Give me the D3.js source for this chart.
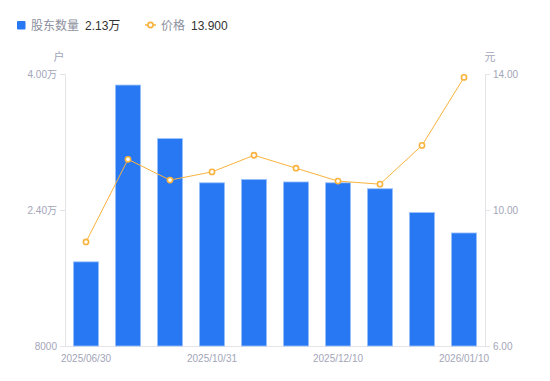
<!DOCTYPE html>
<html><head><meta charset="utf-8">
<script src="https://cdn.jsdelivr.net/npm/d3@7"></script>
<style>
html,body{margin:0;padding:0;background:#fff;}
svg{display:block;font-family:"Liberation Sans","Noto Sans CJK SC",sans-serif;}
</style></head>
<body>
<svg id="c" width="550" height="381"></svg>
<script>
const categories = ["2025/06/30","2025/09/30","2025/10/20","2025/10/31","2025/11/10","2025/11/20","2025/12/10","2025/12/20","2025/12/31","2026/01/10"];
const holders = [17900, 38700, 32400, 27200, 27600, 27300, 27200, 26500, 23700, 21300];
const prices = [9.06, 11.49, 10.88, 11.12, 11.61, 11.23, 10.85, 10.76, 11.90, 13.90];
const leftTicks = [8000, 24000, 40000];
const leftTickLabels = ["8000", "2.40万", "4.00万"];
const rightTicks = [6, 10, 14];
const shownDates = ["2025/06/30","2025/10/31","2025/12/10","2026/01/10"];

const svg = d3.select("#c");
const L = 65, R = 485, T = 74, B = 346;
const labelColor = "#a3a5b8", axisColor = "#e3e3e8";
const barColor = "#2878f4", lineColor = "#f9b33e";

const x = d3.scaleBand().domain(categories).range([L, R]).paddingInner(0.4).paddingOuter(0.2);
const yL = d3.scaleLinear().domain([8000, 40000]).range([B, T]);
const yR = d3.scaleLinear().domain([6, 14]).range([B, T]);

// axes
const gl = svg.append("g").attr("transform", `translate(${L},0)`)
  .call(d3.axisLeft(yL).tickValues(leftTicks).tickSize(5).tickPadding(3)
    .tickFormat((d,i) => leftTickLabels[i]));
const gr = svg.append("g").attr("transform", `translate(${R},0)`)
  .call(d3.axisRight(yR).tickValues(rightTicks).tickSize(5).tickPadding(3)
    .tickFormat(d3.format(".2f")));
const gb = svg.append("g").attr("transform", `translate(0,${B})`)
  .call(d3.axisBottom(x).tickValues(shownDates).tickSize(0).tickPadding(9));
[gl, gr, gb].forEach(g => {
  g.selectAll(".domain").attr("stroke", axisColor).attr("stroke-width", 1);
  g.selectAll(".tick line").attr("stroke", axisColor);
  g.selectAll("text").attr("fill", labelColor).attr("font-size", 10)
    .attr("font-family", "'Liberation Sans','Noto Sans CJK SC',sans-serif");
});
gb.select(".domain").attr("d", `M${L-5},0.5H${R}`);

// axis titles
svg.append("text").attr("x", 59).attr("y", 61).attr("text-anchor", "middle")
  .attr("font-size", 11).attr("fill", labelColor).text("户");
svg.append("text").attr("x", 490).attr("y", 61).attr("text-anchor", "middle")
  .attr("font-size", 11).attr("fill", labelColor).text("元");

// bars
svg.append("g").selectAll("rect").data(holders).join("rect")
  .attr("x", (d,i) => x(categories[i]))
  .attr("width", x.bandwidth())
  .attr("y", d => yL(d))
  .attr("height", d => B - yL(d))
  .attr("fill", barColor)
  .attr("stroke", "#9cc2fb").attr("stroke-width", 0.8);

// line
const cx = i => x(categories[i]) + x.bandwidth() / 2;
svg.append("path").datum(prices)
  .attr("d", d3.line().x((d,i) => cx(i)).y(d => yR(d)))
  .attr("fill", "none").attr("stroke", lineColor).attr("stroke-width", 1);
svg.append("g").selectAll("circle").data(prices).join("circle")
  .attr("cx", (d,i) => cx(i)).attr("cy", d => yR(d)).attr("r", 2.6)
  .attr("fill", "#fff").attr("stroke", lineColor).attr("stroke-width", 1.6);

// legend
const lg = svg.append("g");
lg.append("rect").attr("x", 17).attr("y", 21).attr("width", 8.5).attr("height", 8.5)
  .attr("rx", 1).attr("fill", barColor);
lg.append("text").attr("x", 31).attr("y", 29.5).attr("font-size", 12).attr("fill", "#8c8f9e").text("股东数量");
lg.append("text").attr("x", 85).attr("y", 29.5).attr("font-size", 12).attr("fill", "#333").text(d3.format(".2f")(holders[holders.length-1]/10000) + "万");
lg.append("line").attr("x1", 145).attr("x2", 156).attr("y1", 25).attr("y2", 25)
  .attr("stroke", lineColor).attr("stroke-width", 1.5);
lg.append("circle").attr("cx", 150.5).attr("cy", 25).attr("r", 2.6)
  .attr("fill", "#fff").attr("stroke", lineColor).attr("stroke-width", 1.6);
lg.append("text").attr("x", 161).attr("y", 29.5).attr("font-size", 12).attr("fill", "#8c8f9e").text("价格");
lg.append("text").attr("x", 191).attr("y", 29.5).attr("font-size", 12).attr("fill", "#333").text(d3.format(".3f")(prices[prices.length-1]));
</script>
</body></html>
